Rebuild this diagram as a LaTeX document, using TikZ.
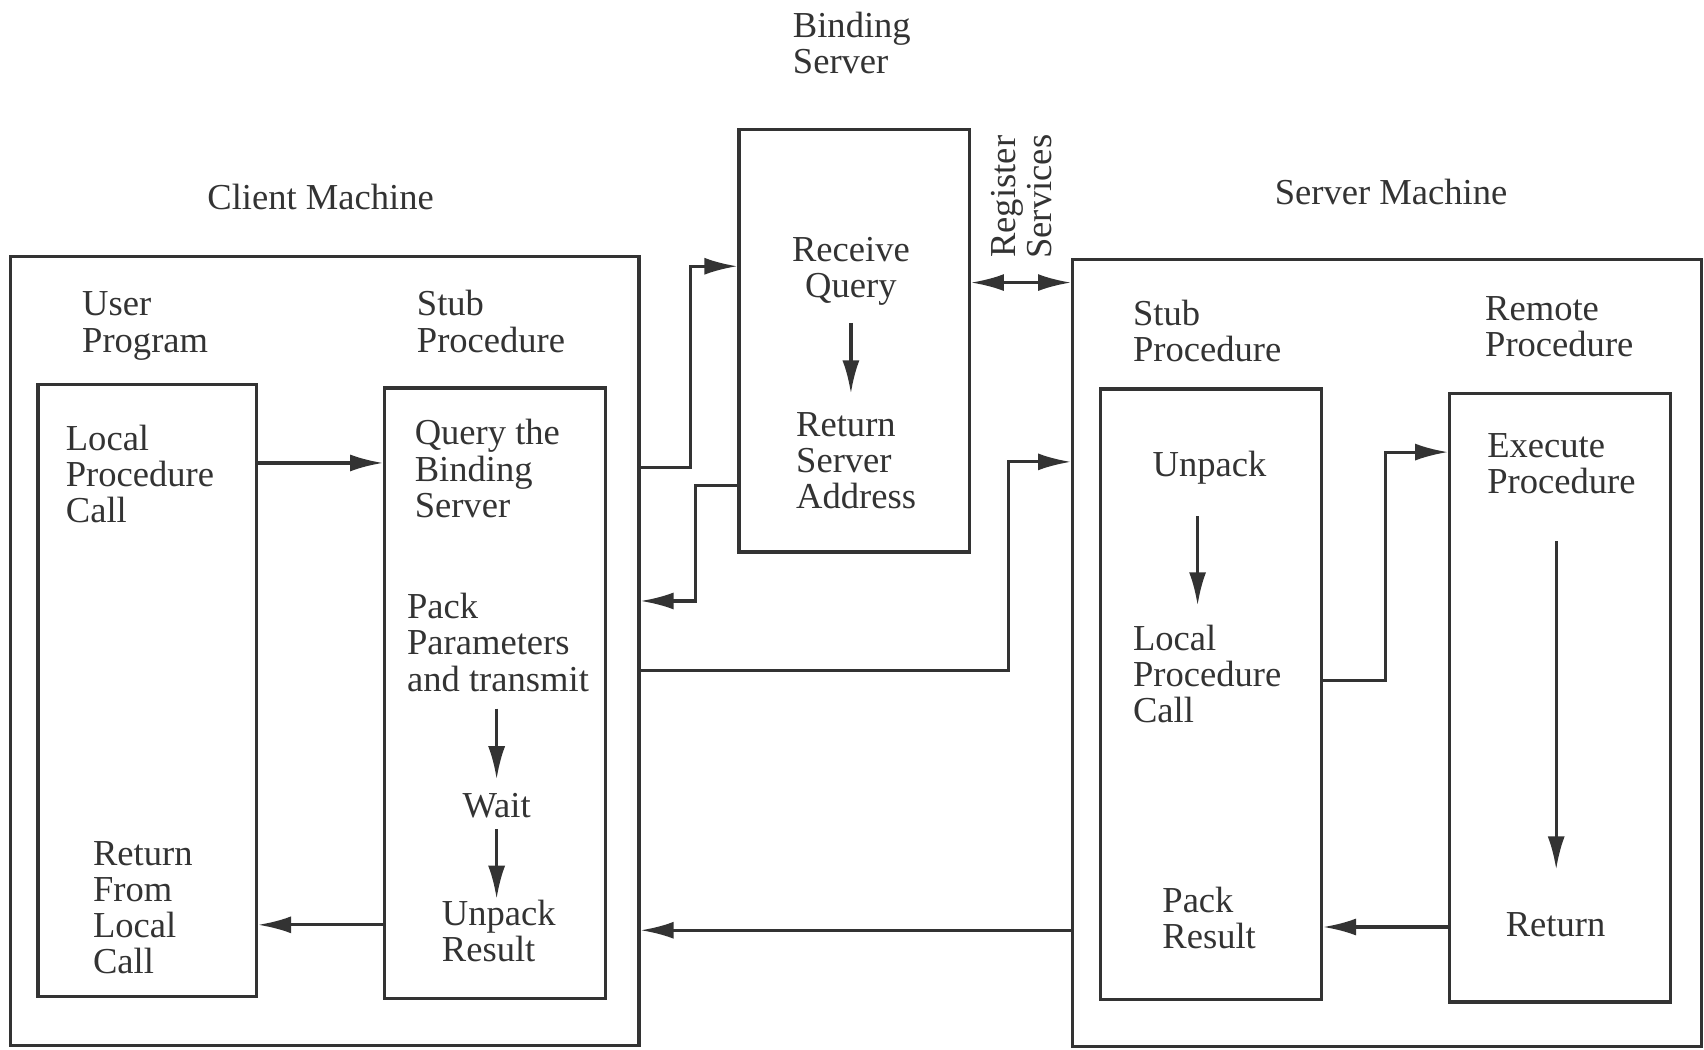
\documentclass[tikz,border=0pt]{standalone}
\usepackage{fontspec}
\setmainfont{Liberation Serif}
\usetikzlibrary{arrows.meta,fit}

\begin{document}
\begin{tikzpicture}[x=0.010867cm, y=-0.010867cm]

    \tikzset{every node/.style={font=\fontsize{10.4}{10.3}\selectfont, text=black!80, inner sep=0pt},
             txt/.style={align=left, anchor=base west},
             lbl/.style={anchor=base},
             box/.style={draw=black!80, line width=0.9pt, inner sep=0pt},
             arr/.style={draw=black!80, line width=0.9pt, -{Latex[length=3.3mm,width=1.7mm]}},
             arrr/.style={draw=black!80, line width=0.9pt, {Latex[length=3.3mm,width=1.7mm]}-{Latex[length=3.3mm,width=1.7mm]}}}

    \useasboundingbox (0,0) rectangle (1568,966);

    % machines (text nodes sit on the baseline of their last line)
    \node[box, fit={(10,236) (588,962)}] (client) {};
    \node[box, fit={(987,239) (1566,963)}] (server) {};
    \node[box, fit={(680,119) (892,508)}] (binding) {};
    \node[lbl] (clientlbl) at (295,193) {Client Machine};
    \node[lbl] (serverlbl) at (1280,188) {Server Machine};
    \node[txt] (bindlbl) at (729,68) {Binding\\Server};

    % client side
    \node[txt] (userlbl) at (75,324) {User\\Program};
    \node[txt] (cstublbl) at (383,324) {Stub\\Procedure};
    \node[box, fit={(35,354) (236,917)}] (user) {};
    \node[box, fit={(354,357) (557,919)}] (cstub) {};
    \node[txt] (lpctxt) at (60,481) {Local\\Procedure\\Call};
    \node[txt] (rettxt) at (85,896) {Return\\From\\Local\\Call};
    \node[txt] (querytxt) at (381,476) {Query the\\Binding\\Server};
    \node[txt] (packtxt) at (374,636) {Pack\\Parameters\\and transmit};
    \node[lbl] (waittxt) at (457,752) {Wait};
    \node[txt] (unpacktxt) at (406,885) {Unpack\\Result};

    % binding server
    \node[align=center, anchor=base] (receivetxt) at (783,274) {Receive\\Query};
    \node[txt] (addrtxt) at (732,468) {Return\\Server\\Address};
    \node[align=center, rotate=90] (regtxt) at (940,181) {Register\\Services};

    % server side
    \node[txt] (sstublbl) at (1042,333) {Stub\\Procedure};
    \node[txt] (remotelbl) at (1366,328) {Remote\\Procedure};
    \node[box, fit={(1013,358) (1216,920)}] (sstub) {};
    \node[box, fit={(1334,362) (1537,922)}] (remote) {};
    \node[txt] (unpacksrv) at (1060,438) {Unpack};
    \node[txt] (lpcsrv) at (1042,665) {Local\\Procedure\\Call};
    \node[txt] (packres) at (1069,873) {Pack\\Result};
    \node[txt] (exectxt) at (1368,454) {Execute\\Procedure};
    \node[txt] (returntxt) at (1385,862) {Return};

    % steps inside the boxes
    \draw[arr] (receivetxt.south |- 0,297) -- (receivetxt.south |- 0,362);
    \draw[arr] (waittxt.north |- 0,652) -- (waittxt.north |- 0,717);
    \draw[arr] (waittxt.south |- 0,763) -- (waittxt.south |- 0,827);
    \draw[arr] (1102,475) -- (1102,557);
    \draw[arr] (1432,498) -- (1432,800);

    % calls between boxes
    \draw[arr] (user.east |- 0,426) -- (cstub.west |- 0,426);
    \draw[arr] (cstub.west |- 0,851) -- (user.east |- 0,851);
    \draw[arr] (client.east |- 0,430) -| (635,245) -- (binding.west |- 0,245);
    \draw[arr] (binding.west |- 0,447) -| (640,553) -- (client.east |- 0,553);
    \draw[arr] (client.east |- 0,617) -| (928,425) -- (server.west |- 0,425);
    \draw[arrr] (binding.east |- 0,260) -- (server.west |- 0,260);
    \draw[arr] (server.west |- 0,856) -- (client.east |- 0,856);
    \draw[arr] (sstub.east |- 0,626) -| (1275,416) -- (remote.west |- 0,416);
    \draw[arr] (remote.west |- 0,853) -- (sstub.east |- 0,853);

\end{tikzpicture}
\end{document}
